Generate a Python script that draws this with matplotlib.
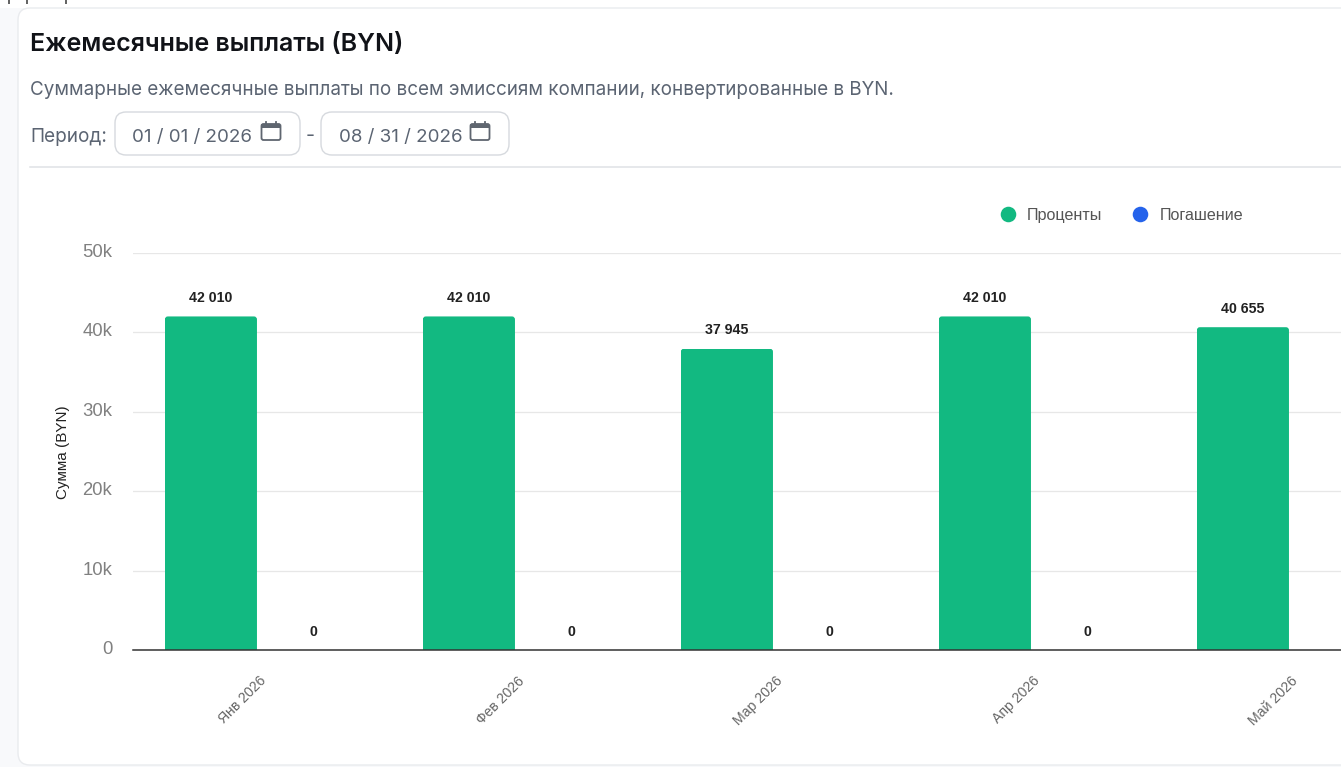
import matplotlib
matplotlib.use("Agg")
import matplotlib.pyplot as plt
from matplotlib.patches import FancyBboxPatch, Rectangle
from matplotlib.lines import Line2D
from matplotlib.transforms import ScaledTranslation

# ---- data ----
months = ["Янв 2026", "Фев 2026", "Мар 2026", "Апр 2026", "Май 2026"]
interest = [42010, 42010, 37945, 42010, 40655]
repayment = [0, 0, 0, 0, 0]
y_ticks = [0, 10000, 20000, 30000, 40000, 50000]
y_tick_labels = ["0", "10k", "20k", "30k", "40k", "50k"]
series_names = ["Проценты", "Погашение"]
title = "Ежемесячные выплаты (BYN)"
subtitle = "Суммарные ежемесячные выплаты по всем эмиссиям компании, конвертированные в BYN."
period_label = "Период:"
date_from = "01 / 01 / 2026"
date_to = "08 / 31 / 2026"
y_label = "Сумма (BYN)"

GREEN = "#12b981"
BLUE = "#2563eb"
W, H = 1341, 767

fig = plt.figure(figsize=(W / 100, H / 100), dpi=100, facecolor="#f8f9fb")
plt.rcParams["font.family"] = ["Liberation Sans", "DejaVu Sans"]


def px_shift(dx, dy):
    return ScaledTranslation(dx / 100, -dy / 100, fig.dpi_scale_trans)


# overlay in pixel coordinates for the page chrome
ui = fig.add_axes([0, 0, 1, 1], zorder=0)
ui.set_xlim(0, W)
ui.set_ylim(H, 0)
ui.axis("off")

# white strip above the card, with the descenders of the cropped line above it
ui.add_patch(Rectangle((0, 0), W, 8, fc="white", ec="none"))
for sx in (9.5, 27, 66):
    ui.plot([sx, sx], [0, 3.5], color="#555555", lw=1.3, solid_capstyle="butt")

ui.add_patch(FancyBboxPatch((18, 8), 1500, 757, boxstyle="round,pad=0,rounding_size=12",
                            fc="white", ec="#e9ebee", lw=1))
ui.plot([30, W], [167, 167], color="#dfe1e5", lw=1.1)
ui.text(30, 44, title, fontsize=18.0, fontweight="semibold", family="Inter", color="#111318", va="center")
ui.text(30, 90, subtitle, fontsize=13.55, family="Inter", color="#5b6472", va="center")
ui.text(30, 137, period_label, fontsize=13.7, family="Inter", color="#5b6472", va="center")
ui.text(306, 136, "-", fontsize=14.2, family="Inter", color="#5b6472", va="center")

for x0, x1, label, tx in [(115, 300, date_from, 132), (321, 509, date_to, 339)]:
    ui.add_patch(FancyBboxPatch((x0, 112), x1 - x0, 43, boxstyle="round,pad=0,rounding_size=11",
                                fc="white", ec="#d6d9de", lw=1))
    ui.text(tx, 137, label, fontsize=13.5, family="Inter", color="#5b6472", va="center")
    ix = x1 - 38.5
    ui.add_patch(FancyBboxPatch((ix, 124), 19, 16, boxstyle="round,pad=0,rounding_size=2",
                                fc="white", ec="#5f6670", lw=1.3))
    ui.add_patch(Rectangle((ix, 124), 19, 4, fc="#5f6670", ec="none"))
    ui.plot([ix + 4.5, ix + 4.5], [121.5, 125], color="#5f6670", lw=1.3)
    ui.plot([ix + 14.5, ix + 14.5], [121.5, 125], color="#5f6670", lw=1.3)

# ---- chart ----
ax_left, ax_right, ax_top, ax_bottom = 133, W, 253, 650
ax = fig.add_axes([ax_left / W, 1 - ax_bottom / H, (ax_right - ax_left) / W, (ax_bottom - ax_top) / H],
                  zorder=1)
ax.patch.set_alpha(0)
step = 258.0
ax.set_xlim(-129 / step, (W - 262) / step)
ax.set_ylim(0, 50000)

offset = 0.198
bar_w = 0.357
x = list(range(len(months)))
b1 = ax.bar([i - offset for i in x], interest, bar_w, color=GREEN, zorder=3)
b2 = ax.bar([i + offset for i in x], repayment, bar_w, color=BLUE, zorder=3)

# rounded top corners: each bar is clipped by a rounded box of the same size
px_per_y = (ax_bottom - ax_top) / 50000
corner = 3.0 / step
for r in b1:
    clip = FancyBboxPatch((r.get_x(), -2000), r.get_width(), r.get_height() + 2000,
                          boxstyle=f"round,pad=0,rounding_size={corner}",
                          mutation_aspect=step / px_per_y, transform=ax.transData)
    r.set_clip_path(clip)

for bars, vals in ((b1, interest), (b2, repayment)):
    for r, v in zip(bars, vals):
        ax.annotate(f"{v:,}".replace(",", " "), (r.get_x() + r.get_width() / 2, v),
                    xytext=(0, 13.2), textcoords="offset points", ha="center", va="center",
                    fontsize=10.2, fontweight="bold", color="#222222", annotation_clip=True)

ax.set_yticks(y_ticks, y_tick_labels)
ax.tick_params(axis="y", length=0, pad=15, labelsize=13.3, labelcolor="#808080")
for t in ax.get_yticklabels():
    t.set_transform(t.get_transform() + px_shift(0, -2.5))
ax.set_xticks(x, months)
ax.tick_params(axis="x", length=0, pad=17, labelsize=10.1, labelcolor="#666666")
for t in ax.get_xticklabels():
    t.set_rotation(45)
    t.set_ha("right")
    t.set_rotation_mode("anchor")
    t.set_transform(t.get_transform() + px_shift(-3, 0))
ax.grid(axis="y", color="#e7e7e7", lw=0.9, zorder=0)
ax.set_axisbelow(True)
for s in ("top", "right", "left"):
    ax.spines[s].set_visible(False)
ax.spines["bottom"].set_color("#333333")
ax.spines["bottom"].set_linewidth(1.1)
ax.spines["bottom"].set_zorder(5)

fig.text(62.5 / W, 1 - 452 / H, y_label, rotation=90, ha="center", va="center", fontsize=11, color="#222222")

handles = [Line2D([], [], ls="", marker="o", ms=11.2, color=GREEN, mec="none"),
           Line2D([], [], ls="", marker="o", ms=11.2, color=BLUE, mec="none")]
fig.legend(handles, series_names, loc="center left", bbox_to_anchor=(991.5 / W, 1 - 215.5 / H), ncol=2,
           frameon=False, fontsize=11.6, labelcolor="#555555", handletextpad=0.19, columnspacing=1.36,
           handlelength=2.0, borderpad=0, borderaxespad=0)

fig.savefig("out.png", dpi=100, facecolor=fig.get_facecolor())
